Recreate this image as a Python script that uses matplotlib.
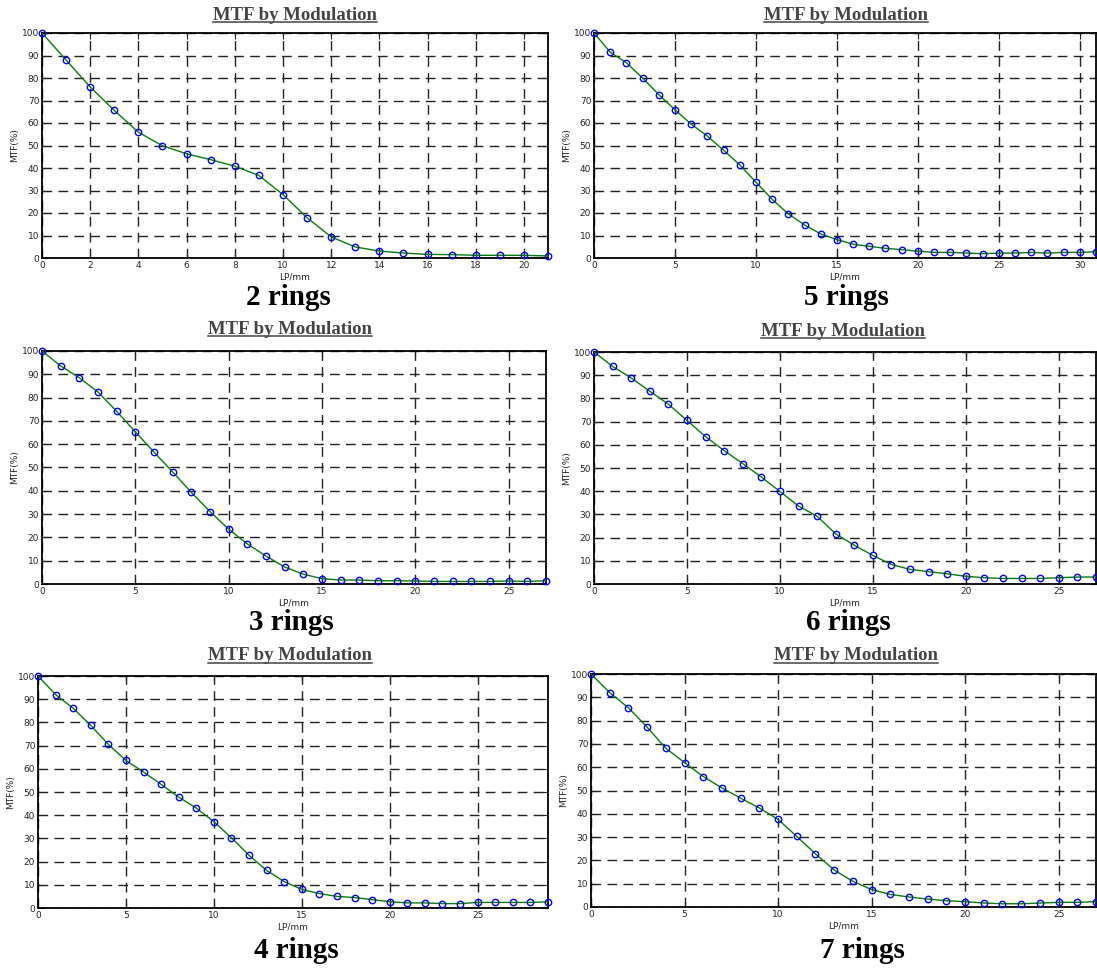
import matplotlib
matplotlib.use("Agg")
import matplotlib.pyplot as plt
from matplotlib.lines import Line2D

# Spatial frequency (LP/mm) and measured MTF (%) for each ring count
lp_2 = list(range(0, 22))
mtf_2 = [100, 88, 76, 65.6, 55.9, 49.9, 46.3, 43.7, 40.8, 36.7, 28.2, 17.9,
         9.4, 4.9, 3.1, 2.2, 1.6, 1.5, 1.2, 1.2, 1.2, 0.9]

lp_5 = list(range(0, 32))
mtf_5 = [100, 91.5, 86.8, 80.0, 72.6, 65.9, 59.5, 54.2, 47.9, 41.4, 33.7, 26.1,
         19.6, 14.7, 10.7, 8.2, 6.1, 5.2, 4.3, 3.7, 3.0, 2.5, 2.5, 2.2, 1.9,
         2.2, 2.2, 2.5, 2.2, 2.5, 2.5, 2.8]

lp_3 = list(range(0, 28))
mtf_3 = [100, 93.6, 88.5, 82.4, 74.1, 65.3, 56.6, 48.1, 39.3, 31.1, 23.5, 17.2,
         12.0, 7.3, 4.2, 2.3, 1.7, 1.7, 1.4, 1.4, 1.3, 1.1, 1.1, 1.1, 1.1,
         1.3, 1.1, 1.4]

lp_6 = list(range(0, 28))
mtf_6 = [100, 93.8, 88.8, 83.1, 77.5, 70.5, 63.5, 57.5, 51.9, 46.1, 39.9, 33.6,
         29.2, 21.6, 16.7, 12.3, 8.4, 6.3, 5.3, 4.4, 3.3, 2.7, 2.4, 2.4, 2.4,
         2.7, 3.0, 3.0]

lp_4 = list(range(0, 30))
mtf_4 = [100, 92.0, 86.1, 78.7, 70.5, 63.6, 58.6, 53.3, 47.8, 43.1, 37.2, 30.3,
         22.7, 16.2, 11.4, 8.0, 6.2, 5.0, 4.5, 3.6, 2.7, 2.2, 2.2, 1.9, 1.9,
         2.4, 2.4, 2.4, 2.4, 2.7]

lp_7 = list(range(0, 28))
mtf_7 = [100, 92.0, 85.5, 77.2, 68.1, 62.0, 56.0, 51.1, 46.7, 42.5, 37.6, 30.3,
         22.8, 15.9, 11.0, 7.5, 5.4, 4.3, 3.4, 2.7, 2.3, 1.7, 1.4, 1.4, 1.7,
         2.0, 2.0, 2.3]

captions = ["2 rings", "5 rings", "3 rings", "6 rings", "4 rings", "7 rings"]
y_ticks = list(range(0, 101, 10))
x_ticks_2 = list(range(0, 21, 2))
x_ticks_5 = list(range(0, 31, 5))
x_ticks_std = list(range(0, 26, 5))

W, H = 1097, 968
fig = plt.figure(figsize=(W / 100, H / 100), dpi=100)
fig.patch.set_facecolor("white")


def px_axes(left, top, right, bottom):
    return fig.add_axes([left / W, 1 - bottom / H, (right - left) / W, (bottom - top) / H])


panels = [
    # (axes box in px, x, y, xmax, xticks, title centre, caption centre)
    ((42, 33, 548, 258), lp_2, mtf_2, 21, x_ticks_2, (295, 15), (288, 296)),
    ((594, 33, 1096, 258), lp_5, mtf_5, 31, x_ticks_5, (846, 15), (846, 296)),
    ((42, 351, 546, 584), lp_3, mtf_3, 27, x_ticks_std, (290, 329), (291, 622)),
    ((594, 352, 1096, 584), lp_6, mtf_6, 27, x_ticks_std, (843, 331), (848, 622)),
    ((38, 676, 548, 908), lp_4, mtf_4, 29, x_ticks_std, (290, 656), (296, 950)),
    ((591, 674, 1096, 907), lp_7, mtf_7, 27, x_ticks_std, (856, 656), (862, 950)),
]

titles = []
for (box, xs, ys, xmax, xt, tpos, cpos), cap in zip(panels, captions):
    ax = px_axes(*box)
    ax.plot(xs, ys, color="#007f00", lw=1.0, zorder=3)
    ax.plot(xs, ys, ls="none", marker="o", ms=4.6, mfc="none", mec="#0000ff",
            mew=1.0, zorder=4, clip_on=False)
    ax.set_xlim(0, xmax)
    ax.set_ylim(0, 100)
    ax.set_xticks(xt)
    ax.set_yticks(y_ticks)
    ax.grid(True, color="#222222", ls=(0, (7, 4.5)), lw=1.0)
    ax.tick_params(direction="in", length=4, width=0.8, labelsize=6.5,
                   top=True, right=True, pad=2, colors="#222222")
    for sp in ax.spines.values():
        sp.set_linewidth(1.3)
    ax.set_xlabel("LP/mm", fontsize=6.5, labelpad=2, color="#222222")
    ax.set_ylabel("MTF(%)", fontsize=6.5, labelpad=2, color="#222222")

    t = fig.text(tpos[0] / W, 1 - tpos[1] / H, "MTF by Modulation",
                 family="Liberation Serif", weight="bold", fontsize=13.5,
                 color="#444444", ha="center", va="center")
    titles.append(t)
    fig.text(cpos[0] / W, 1 - (cpos[1] + 1) / H, cap, family="Liberation Serif",
             weight="bold", fontsize=21, color="black", ha="center", va="center")

# Underline each panel heading
fig.canvas.draw()
renderer = fig.canvas.get_renderer()
for t in titles:
    bb = t.get_window_extent(renderer)
    y = bb.y0 + 2.0
    fig.add_artist(Line2D([bb.x0 / W, bb.x1 / W], [y / H, y / H],
                          transform=fig.transFigure, color="#444444", lw=1.1))

fig.savefig("out.png", dpi=100)
